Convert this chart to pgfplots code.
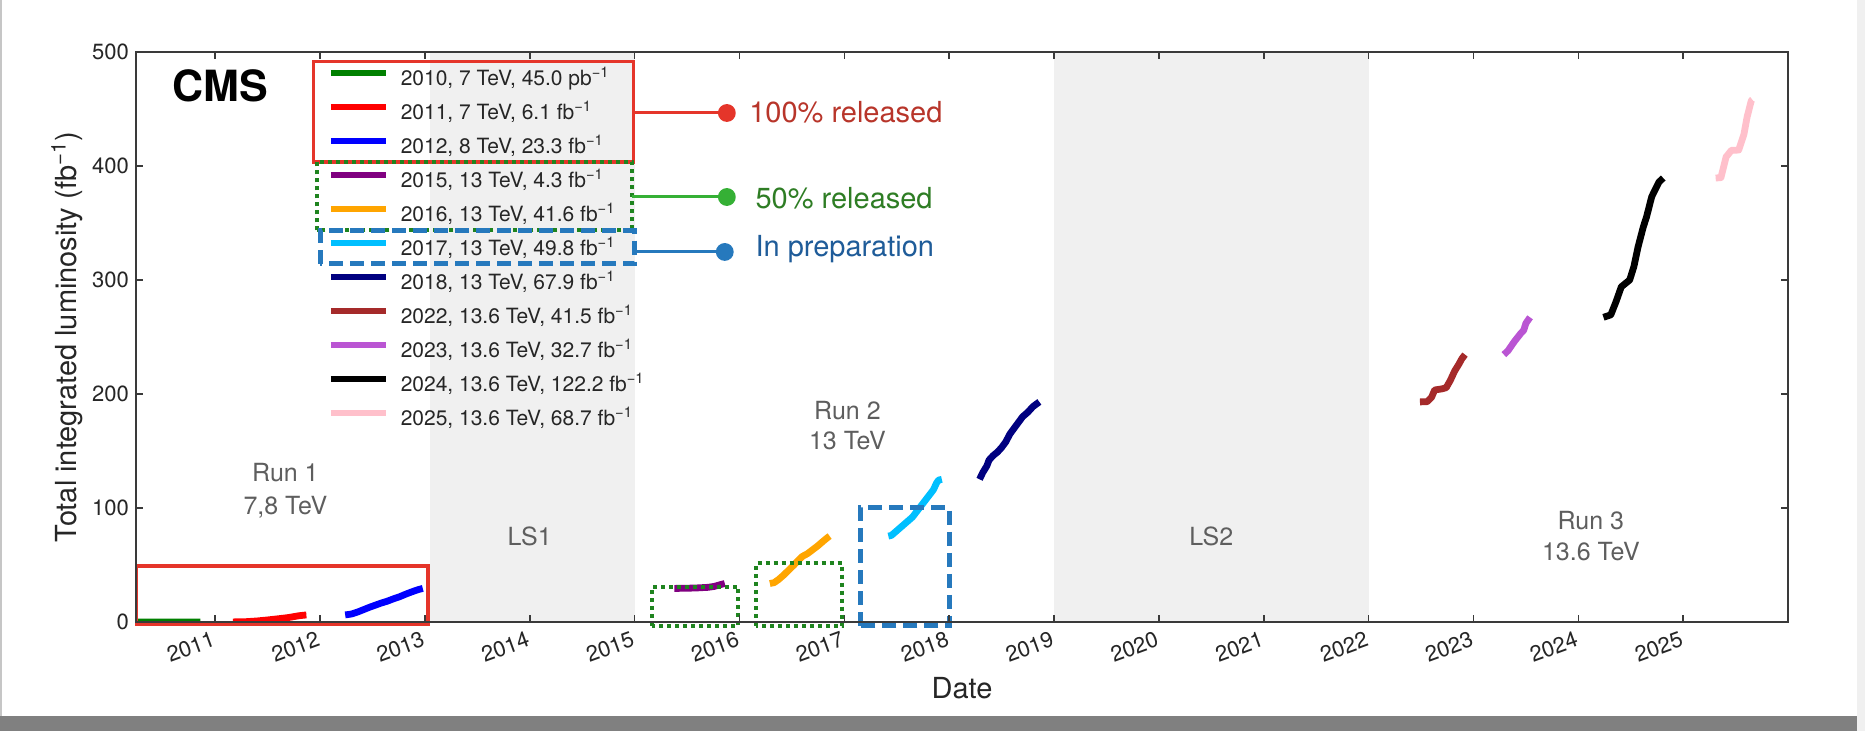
\documentclass[border=0pt]{standalone}
\usepackage{fontspec}
\setmainfont{TeX Gyre Heros}
\usepackage{pgfplots}
\pgfplotsset{compat=1.18}
\definecolor{c2010}{HTML}{008000}
\definecolor{c2011}{HTML}{FF0000}
\definecolor{c2012}{HTML}{0000FF}
\definecolor{c2015}{HTML}{800080}
\definecolor{c2016}{HTML}{FFA500}
\definecolor{c2017}{HTML}{00BFFF}
\definecolor{c2018}{HTML}{000080}
\definecolor{c2022}{HTML}{A52A2A}
\definecolor{c2023}{HTML}{BA55D3}
\definecolor{c2024}{HTML}{000000}
\definecolor{c2025}{HTML}{FFC0CB}
\definecolor{lsgray}{HTML}{F0F0F0}
\definecolor{axisgray}{HTML}{3A3A3A}
\definecolor{tickgray}{HTML}{262626}
\definecolor{rungray}{HTML}{5E5E5E}
\definecolor{annred}{HTML}{E5352A}
\definecolor{annredtext}{HTML}{B8352A}
\definecolor{anngreen}{HTML}{35B035}
\definecolor{anngreentext}{HTML}{2E7D24}
\definecolor{boxgreen}{HTML}{1F841F}
\definecolor{annblue}{HTML}{2679BD}
\definecolor{annbluetext}{HTML}{1F5C99}
\definecolor{bandgray}{HTML}{808080}
\newcommand{\inv}{\textsuperscript{\char"2212 1}}
\begin{document}
\begin{tikzpicture}
\path[use as bounding box] (0pt,0pt) rectangle (932.5pt,365.5pt);
\fill[white] (0pt,0pt) rectangle (932.5pt,365.5pt);
\fill[bandgray] (0pt,0pt) rectangle (928.5pt,7.5pt);
\fill[gray!12] (928.5pt,0pt) rectangle (932.5pt,365.5pt);
\draw[gray!45, line width=1pt] (0.5pt,7.5pt) -- (0.5pt,365.5pt);
\begin{axis}[
  at={(68pt,54.5pt)}, anchor=south west,
  scale only axis, width=826pt, height=285pt,
  xmin=2010.245, xmax=2026.0, ymin=0, ymax=500,
  clip=false, axis on top,
  axis line style={draw=axisgray, line width=1pt},
  tick align=inside, major tick length=3.5pt,
  tick style={axisgray, line width=0.8pt},
  xtick={2011,2012,2013,2014,2015,2016,2017,2018,2019,2020,2021,2022,2023,2024,2025},
  ytick={0,100,200,300,400,500},
  /pgf/number format/1000 sep={},
  /pgf/number format/assume math mode=true,
  xticklabel style={rotate=20, anchor=north east, font=\fontsize{11}{13}\selectfont, text=tickgray},
  yticklabel style={font=\fontsize{11}{13}\selectfont, text=tickgray},
  xlabel={Date},
  ylabel={Total integrated luminosity (fb\inv)},
  label style={font=\fontsize{14.5}{16}\selectfont, text=tickgray},
  xlabel style={at={(axis description cs:0.5,-0.135)}, anchor=base},
  ylabel style={at={(axis description cs:-0.0363,0.5)}, anchor=base},
  legend style={at={(axis cs:2012.07,484.5)}, anchor=north west,
    draw=none, fill=none, inner sep=0pt,
    font=\fontsize{10.5}{12}\selectfont, text=tickgray,
    row sep=7pt,
    nodes={inner sep=0pt, text height=7.5pt, text depth=2.5pt}},
  legend cell align=left,
  legend image code/.code={\draw[#1, line width=3pt] (0pt,3.5pt) -- (27.7pt,3.5pt); \path[draw=none, fill=none] (35pt,3.5pt);},
  every axis plot/.append style={line width=3.4pt, line join=round},
]
% shaded long shutdowns
\fill[lsgray] (axis cs:2013.05,0) rectangle (axis cs:2015.0,500);
\fill[lsgray] (axis cs:2019.0,0) rectangle (axis cs:2022.0,500);

\addplot[c2010] coordinates {(2010.25,0) (2010.45,0.002) (2010.6,0.005) (2010.7,0.01) (2010.78,0.03) (2010.86,0.045)};
\addlegendentry{2010, 7 TeV, 45.0 pb\inv}
\addplot[c2011] coordinates {(2011.17,0.05) (2011.3,0.3) (2011.4,0.9) (2011.5,1.8) (2011.6,2.8) (2011.7,3.9) (2011.75,4.7) (2011.8,5.5) (2011.85,6.0) (2011.87,6.15)};
\addlegendentry{2011, 7 TeV, 6.1 fb\inv}
\addplot[c2012] coordinates {(2012.24,6.2) (2012.30,7.0) (2012.36,8.8) (2012.42,11) (2012.48,13.2) (2012.52,14.5) (2012.58,16.5) (2012.64,18.2) (2012.70,20.3) (2012.76,22.2) (2012.82,24.5) (2012.88,26.6) (2012.94,28.5) (2012.98,29.45)};
\addlegendentry{2012, 8 TeV, 23.3 fb\inv}
\addplot[c2015] coordinates {(2015.38,29.45) (2015.5,29.6) (2015.6,29.9) (2015.7,30.4) (2015.76,31.2) (2015.82,32.8) (2015.86,33.75)};
\addlegendentry{2015, 13 TeV, 4.3 fb\inv}
\addplot[c2016] coordinates {(2016.29,33.75) (2016.33,34.5) (2016.37,37) (2016.42,41) (2016.47,45.5) (2016.52,50) (2016.56,54) (2016.60,57.5) (2016.65,60) (2016.70,63.5) (2016.75,67) (2016.80,71) (2016.84,74) (2016.86,75.35)};
\addlegendentry{2016, 13 TeV, 41.6 fb\inv}
\addplot[c2017] coordinates {(2017.42,75.35) (2017.45,76) (2017.50,80) (2017.55,84) (2017.60,88) (2017.65,92) (2017.70,98) (2017.75,104) (2017.80,110) (2017.85,116) (2017.88,122) (2017.90,124.5) (2017.93,125.15)};
\addlegendentry{2017, 13 TeV, 49.8 fb\inv}
\addplot[c2018] coordinates {(2018.29,125.15) (2018.32,131) (2018.36,137) (2018.38,142) (2018.42,146) (2018.46,149) (2018.50,153) (2018.54,158) (2018.58,165) (2018.62,170) (2018.66,175) (2018.70,180) (2018.75,184) (2018.80,189) (2018.86,193.05)};
\addlegendentry{2018, 13 TeV, 67.9 fb\inv}
\addplot[c2022] coordinates {(2022.49,193.05) (2022.56,193.3) (2022.60,197) (2022.63,203.5) (2022.70,204.5) (2022.74,205.5) (2022.78,212) (2022.82,220) (2022.86,226) (2022.89,231) (2022.92,234.55)};
\addlegendentry{2022, 13.6 TeV, 41.5 fb\inv}
\addplot[c2023] coordinates {(2023.29,234.55) (2023.33,238) (2023.39,246) (2023.45,253) (2023.48,256) (2023.50,262) (2023.54,267.25)};
\addlegendentry{2023, 13.6 TeV, 32.7 fb\inv}
\addplot[c2024] coordinates {(2024.24,267.25) (2024.31,269.4) (2024.36,281) (2024.41,294) (2024.45,297) (2024.49,300) (2024.53,311.7) (2024.57,329) (2024.62,346.6) (2024.65,355) (2024.70,373) (2024.73,378.7) (2024.77,386) (2024.81,389.45)};
\addlegendentry{2024, 13.6 TeV, 122.2 fb\inv}
\addplot[c2025] coordinates {(2025.31,389.45) (2025.36,389.8) (2025.41,408) (2025.46,413.7) (2025.53,414) (2025.58,428) (2025.61,443) (2025.65,457.4) (2025.66,458.15)};
\addlegendentry{2025, 13.6 TeV, 68.7 fb\inv}

% annotation boxes
\draw[annred, line width=1.75pt] (axis cs:2011.94,403.5) rectangle (axis cs:2014.99,491.8);
\draw[boxgreen, line width=2pt, dash pattern=on 2pt off 2pt] (axis cs:2011.97,343.6) rectangle (axis cs:2014.98,403.8);
\draw[annblue, line width=2.5pt, dash pattern=on 7pt off 3.5pt] (axis cs:2012.0,314.3) rectangle (axis cs:2015.0,343);
\draw[annred, line width=1.75pt] (axis cs:2010.25,-2) rectangle (axis cs:2013.03,49);
\draw[boxgreen, line width=2pt, dash pattern=on 2pt off 2pt] (axis cs:2015.17,-3.5) rectangle (axis cs:2015.99,31);
\draw[boxgreen, line width=2pt, dash pattern=on 2pt off 2pt] (axis cs:2016.16,-3.5) rectangle (axis cs:2016.98,51.5);
\draw[annblue, line width=2.5pt, dash pattern=on 7pt off 3.5pt] (axis cs:2017.15,-3.5) rectangle (axis cs:2018.0,100);

% connectors
\addplot[forget plot, annred, line width=1.5pt, mark=*, mark indices={2}, mark size=3.7pt, mark options={solid, fill=annred, draw=annred}] coordinates {(2014.99,446.5) (2015.88,446.5)};
\addplot[forget plot, anngreen, line width=1.5pt, mark=*, mark indices={2}, mark size=3.7pt, mark options={solid, fill=anngreen, draw=anngreen}] coordinates {(2014.98,372.8) (2015.88,372.8)};
\addplot[forget plot, annblue, line width=1.5pt, mark=*, mark indices={2}, mark size=3.7pt, mark options={solid, fill=annblue, draw=annblue}] coordinates {(2015.0,324.6) (2015.86,324.6)};
\node[anchor=base west, inner sep=0pt, text=annredtext, font=\fontsize{14.5}{16}\selectfont] at (axis cs:2016.09,438) {100\% released};
\node[anchor=base west, inner sep=0pt, text=anngreentext, font=\fontsize{14.5}{16}\selectfont] at (axis cs:2016.15,362.9) {50\% released};
\node[anchor=base west, inner sep=0pt, text=annbluetext, font=\fontsize{14.5}{16}\selectfont] at (axis cs:2016.15,320.4) {In preparation};

% text labels
\node[anchor=base west, inner sep=0pt, font=\bfseries\fontsize{21.5}{24}\selectfont] at (axis cs:2010.59,457) {CMS};
\node[anchor=base, inner sep=0pt, text=rungray, font=\fontsize{12.5}{14}\selectfont] at (axis cs:2011.67,123.1) {Run 1};
\node[anchor=base, inner sep=0pt, text=rungray, font=\fontsize{12.5}{14}\selectfont] at (axis cs:2011.67,94.7) {7,8 TeV};
\node[anchor=base, inner sep=0pt, text=rungray, font=\fontsize{12.5}{14}\selectfont] at (axis cs:2014.0,67.5) {LS1};
\node[anchor=base, inner sep=0pt, text=rungray, font=\fontsize{12.5}{14}\selectfont] at (axis cs:2017.03,177.8) {Run 2};
\node[anchor=base, inner sep=0pt, text=rungray, font=\fontsize{12.5}{14}\selectfont] at (axis cs:2017.03,150.9) {13 TeV};
\node[anchor=base, inner sep=0pt, text=rungray, font=\fontsize{12.5}{14}\selectfont] at (axis cs:2020.5,67.5) {LS2};
\node[anchor=base, inner sep=0pt, text=rungray, font=\fontsize{12.5}{14}\selectfont] at (axis cs:2024.12,81.3) {Run 3};
\node[anchor=base, inner sep=0pt, text=rungray, font=\fontsize{12.5}{14}\selectfont] at (axis cs:2024.12,53.8) {13.6 TeV};
\end{axis}
\end{tikzpicture}
\end{document}
